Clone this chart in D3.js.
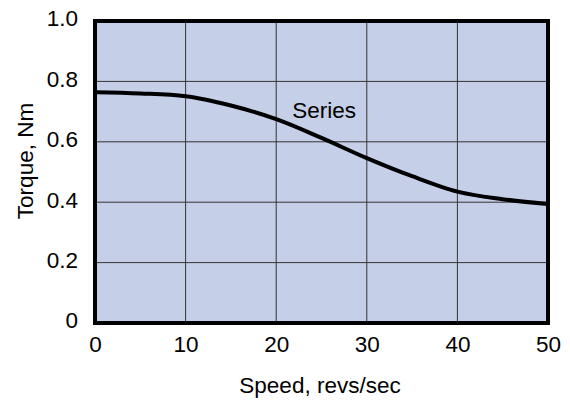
<!DOCTYPE html>
<html>
<head>
<meta charset="utf-8">
<script src="https://cdn.jsdelivr.net/npm/d3@7"></script>
<style>
  body { margin: 0; background: #fff; }
  text { font-family: "Liberation Sans", Arial, sans-serif; fill: #000; }
</style>
</head>
<body>
<div id="chart"></div>
<script>
// chart values
const speed = [0, 5, 10, 15, 20, 25, 30, 35, 40, 45, 50];
const torque = [0.764, 0.76, 0.751, 0.72, 0.675, 0.613, 0.546, 0.486, 0.435, 0.41, 0.394];
const xTicks = [0, 10, 20, 30, 40, 50];
const yTicks = [0, 0.2, 0.4, 0.6, 0.8, 1.0];

const margin = {top: 21, right: 22, bottom: 79, left: 95},
    width = 570 - margin.left - margin.right,
    height = 402 - margin.top - margin.bottom;

const fs = 22.5;

const svg = d3.select("#chart")
  .append("svg")
    .attr("width", 570)
    .attr("height", 402)
  .append("g")
    .attr("transform", `translate(${margin.left},${margin.top})`);

const x = d3.scaleLinear().domain([0, 50]).range([0, width]);
const y = d3.scaleLinear().domain([0, 1]).range([height, 0]);

// plot background
svg.append("rect")
  .attr("width", width)
  .attr("height", height)
  .attr("fill", "#c5cfe7");

// grid
svg.append("g")
  .selectAll("line")
  .data(xTicks.slice(1, -1))
  .join("line")
    .attr("x1", d => x(d)).attr("x2", d => x(d))
    .attr("y1", 0).attr("y2", height)
    .attr("stroke", "#333").attr("stroke-width", 1);
svg.append("g")
  .selectAll("line")
  .data(yTicks.slice(1, -1))
  .join("line")
    .attr("x1", 0).attr("x2", width)
    .attr("y1", d => y(d)).attr("y2", d => y(d))
    .attr("stroke", "#333").attr("stroke-width", 1);

// axes (labels only)
const xAxis = svg.append("g")
  .attr("transform", `translate(0,${height})`)
  .call(d3.axisBottom(x).tickValues(xTicks).tickFormat(d3.format("d")).tickSize(0).tickPadding(13));
const yAxis = svg.append("g")
  .call(d3.axisLeft(y).tickValues(yTicks).tickFormat(d => d === 0 ? "0" : d3.format(".1f")(d)).tickSize(0).tickPadding(17));
[xAxis, yAxis].forEach(a => {
  a.select(".domain").remove();
  a.attr("font-size", fs).attr("font-family", "Liberation Sans, Arial, sans-serif");
});
yAxis.selectAll("text").attr("dy", "0.22em");

// frame
svg.append("rect")
  .attr("width", width)
  .attr("height", height)
  .attr("fill", "none")
  .attr("stroke", "#000")
  .attr("stroke-width", 4);

// the curve
const line = d3.line()
  .x((d, i) => x(speed[i]))
  .y(d => y(d))
  .curve(d3.curveMonotoneX);
svg.append("path")
  .datum(torque)
  .attr("d", line)
  .attr("fill", "none")
  .attr("stroke", "#000")
  .attr("stroke-width", 4);

svg.append("text")
  .attr("x", x(25.3))
  .attr("y", y(0.68))
  .attr("text-anchor", "middle")
  .attr("font-size", fs)
  .text("Series");

// axis titles
svg.append("text")
  .attr("x", 225)
  .attr("y", height + 70)
  .attr("text-anchor", "middle")
  .attr("font-size", fs)
  .text("Speed, revs/sec");
svg.append("text")
  .attr("transform", `translate(${-62},${140}) rotate(-90)`)
  .attr("text-anchor", "middle")
  .attr("font-size", fs)
  .text("Torque, Nm");
</script>
</body>
</html>
